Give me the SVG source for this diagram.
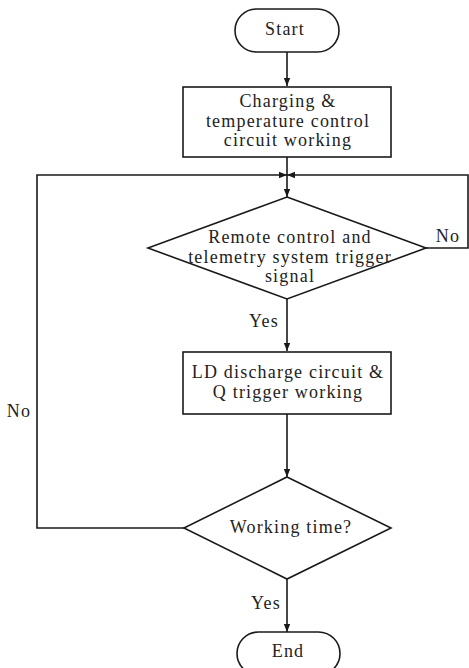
<svg xmlns="http://www.w3.org/2000/svg" width="469" height="668" viewBox="0 0 469 668">
<style>
.s{fill:#fff;stroke:#1a1a1a;stroke-width:1.6}
.c{fill:none;stroke:#1a1a1a;stroke-width:1.6}
text{font-family:"Liberation Serif","Times New Roman",serif;font-size:18px;letter-spacing:1.2px;fill:#222;text-anchor:middle}
</style>
<defs>
<marker id="ah" viewBox="0 0 10 10" refX="10" refY="5" markerWidth="8" markerHeight="8" markerUnits="userSpaceOnUse" orient="auto">
<path d="M0,1 L10,5 L0,9 Z" fill="#1a1a1a"/>
</marker>
</defs>
<rect width="469" height="668" fill="#fff"/>
<g id="connectors">
<line class="c" x1="287" y1="52" x2="287" y2="86" marker-end="url(#ah)"/>
<line class="c" x1="287" y1="157" x2="287" y2="197" marker-end="url(#ah)"/>
<polyline class="c" points="426,248 468,248 468,175 287,175" marker-end="url(#ah)"/>
<polyline class="c" points="184,528 37,528 37,175 287,175" marker-end="url(#ah)"/>
<line class="c" x1="287" y1="299" x2="287" y2="351" marker-end="url(#ah)"/>
<line class="c" x1="287" y1="414" x2="287" y2="477" marker-end="url(#ah)"/>
<line class="c" x1="287" y1="579" x2="287" y2="632" marker-end="url(#ah)"/>
<text x="448" y="242">No</text>
<text x="19" y="417">No</text>
<text x="264" y="327">Yes</text>
<text x="266" y="609">Yes</text>
</g>
<g id="start">
<rect class="s" x="235" y="9" width="104" height="43" rx="21.5"/>
<text x="285" y="35">Start</text>
</g>
<g id="charging">
<rect class="s" x="183" y="87" width="208" height="70"/>
<text x="288" y="107">Charging &amp;</text>
<text x="288" y="127">temperature control</text>
<text x="288" y="146">circuit working</text>
</g>
<g id="trigger">
<polygon class="s" points="287,197 426,248 287,299 148,248"/>
<text x="290" y="243">Remote control and</text>
<text x="290" y="263">telemetry system trigger</text>
<text x="290" y="282">signal</text>
</g>
<g id="discharge">
<rect class="s" x="183" y="352" width="208" height="62"/>
<text x="288" y="378">LD discharge circuit &amp;</text>
<text x="288" y="398">Q trigger working</text>
</g>
<g id="worktime">
<polygon class="s" points="287,477 391,528 287,579 184,528"/>
<text x="291" y="533">Working time?</text>
</g>
<g id="end">
<rect class="s" x="237" y="632" width="103" height="43" rx="21.5"/>
<text x="288" y="657">End</text>
</g>
</svg>
